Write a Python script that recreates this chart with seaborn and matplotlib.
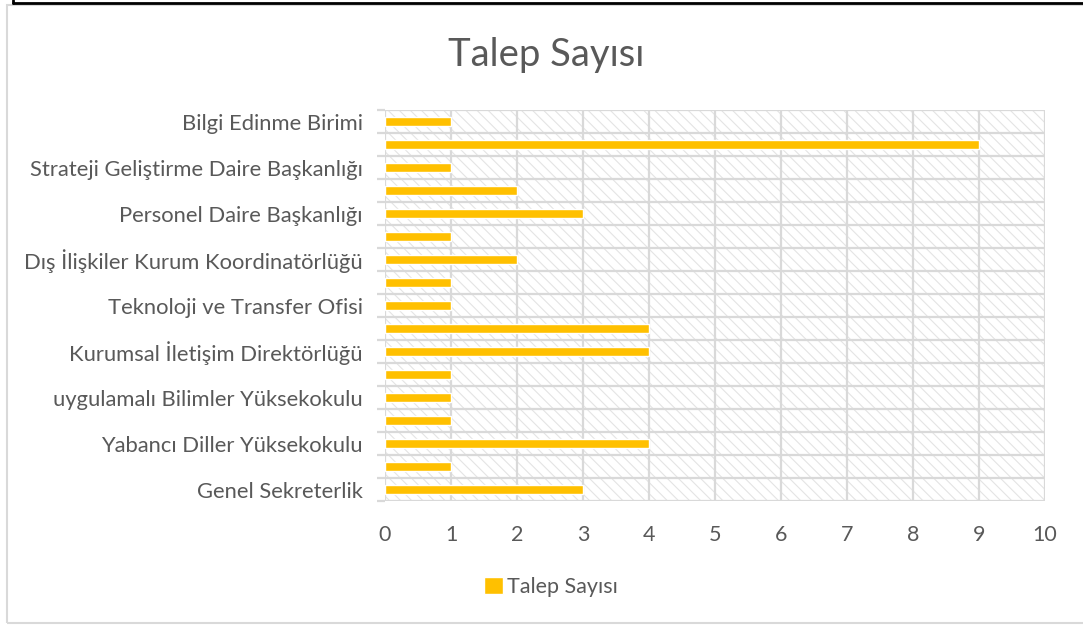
import matplotlib
matplotlib.use("Agg")
import matplotlib.pyplot as plt
import seaborn as sns
import pandas as pd
from matplotlib.patches import Rectangle
from matplotlib.lines import Line2D

# ---- data (top to bottom as shown) ----
labels = ["Bilgi Edinme Birimi", None, "Strateji Geliştirme Daire Başkanlığı", None,
          "Personel Daire Başkanlığı", None, "Dış İlişkiler Kurum Koordinatörlüğü", None,
          "Teknoloji ve Transfer Ofisi", None, "Kurumsal İletişim Direktörlüğü", None,
          "uygulamalı Bilimler Yüksekokulu", None, "Yabancı Diller Yüksekokulu", None,
          "Genel Sekreterlik"]
values = [1, 9, 1, 2, 3, 1, 2, 1, 1, 4, 4, 1, 1, 1, 4, 1, 3]
xticks = [0, 1, 2, 3, 4, 5, 6, 7, 8, 9, 10]
series_name = "Talep Sayısı"
title = "Talep Sayısı"

sns.set_theme(style="white")
plt.rcParams['font.family'] = ['Lato', 'DejaVu Sans']
plt.rcParams['hatch.linewidth'] = 0.8

TXT = "#595959"
GRID = "#d9d9d9"
BAR = "#FFC000"

df = pd.DataFrame({"pos": list(range(len(values))), "value": values})

fig = plt.figure(figsize=(10.83, 6.26), dpi=100)
ax = fig.add_axes([385/1083, 1-501/626, 660/1083, 391/626])

# hatched plot-area background
bg = Rectangle((0, 0), 1, 1, transform=ax.transAxes, facecolor="white",
               edgecolor="#e4e4e4", hatch="\\\\\\", lw=0, zorder=0)
ax.add_patch(bg)

sns.barplot(data=df, x="value", y="pos", orient="h", native_scale=True,
            color=BAR, width=0.42, saturation=1, ax=ax, label=series_name, zorder=3)

n = len(values)
ax.set_ylim(n - 0.5, -0.5)
ax.set_xlim(0, 10)
ax.set_xticks(xticks)
ax.set_xticklabels([str(t) for t in xticks])
lab_pos = [i for i, l in enumerate(labels) if l]
ax.set_yticks(lab_pos)
ax.set_yticklabels([labels[i] for i in lab_pos])
ax.set_yticks([i - 0.5 for i in range(n + 1)], minor=True)

for s in ax.spines.values():
    s.set_visible(False)

ax.set_axisbelow(True)
ax.grid(False)
for x in xticks:
    ax.axvline(x, color=GRID, lw=1.6, zorder=1)
for i in range(n + 1):
    ax.axhline(i - 0.5, color=GRID, lw=1.6, zorder=1)

ax.tick_params(axis="y", which="major", length=0, pad=16, labelsize=15.8, labelcolor=TXT)
ax.tick_params(axis="y", which="minor", left=True, length=5.5, width=1.6, color=GRID)
ax.tick_params(axis="x", which="major", length=0, pad=17, labelsize=15.5, labelcolor=TXT)
ax.set_xlabel("")
ax.set_ylabel("")

fig.text(546/1083, 1-55/626, title, ha="center", va="center", fontsize=27.5,
         color=TXT, fontweight="normal")

h, l = ax.get_legend_handles_labels()
leg = fig.legend(h[:1], l[:1], loc="center", bbox_to_anchor=(551/1083, 1-587/626),
                 frameon=False, fontsize=15.5, handlelength=0.85, handleheight=0.85,
                 handletextpad=0.2, labelcolor=TXT)
if ax.get_legend() is not None:
    ax.get_legend().remove()

# chart frame and outer black border
fig.add_artist(Rectangle((6.5/1083, 1-623/626), 1.2, (623-4.5)/626, transform=fig.transFigure,
                         facecolor="none", edgecolor="#d9d9d9", lw=1.5))
fig.add_artist(Line2D([12.5/1083, 1.0], [1-3/626, 1-3/626], transform=fig.transFigure,
                      color="black", lw=2))
fig.add_artist(Line2D([12.5/1083, 12.5/1083], [1-3/626, 1.0], transform=fig.transFigure,
                      color="black", lw=2))

fig.savefig("out.png", dpi=100, facecolor="white")
